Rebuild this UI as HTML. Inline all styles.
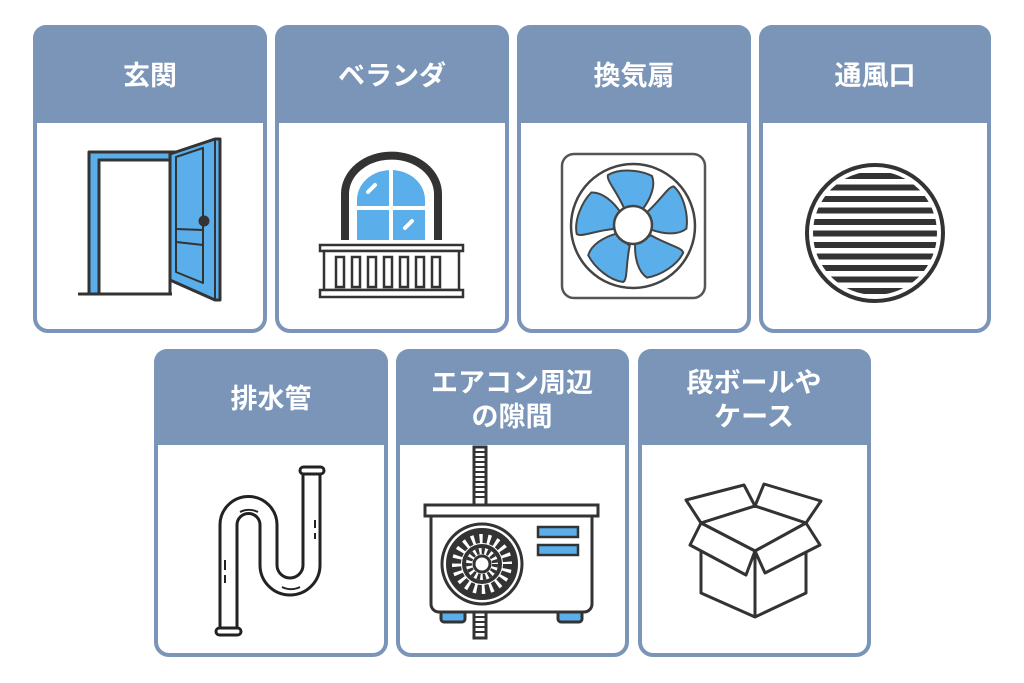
<!DOCTYPE html>
<html><head><meta charset="utf-8"><style>
html,body{margin:0;padding:0;background:#fff;width:1024px;height:683px;overflow:hidden}
svg{display:block}
text{font-family:"Liberation Sans","Noto Sans CJK JP",sans-serif;font-weight:bold;fill:#fff;font-size:27px;text-anchor:middle}
</style></head><body>
<svg width="1024" height="683" viewBox="0 0 1024 683">
<defs>
<clipPath id="vc"><circle cx="875" cy="233" r="62"/></clipPath>
</defs>
<g fill="#fff" stroke="#7a95b8" stroke-width="4">
<rect x="35" y="27" width="230" height="304" rx="13"/>
<rect x="277" y="27" width="230" height="304" rx="13"/>
<rect x="519" y="27" width="230" height="304" rx="13"/>
<rect x="761" y="27" width="228" height="304" rx="13"/>
<rect x="156" y="351" width="230" height="304" rx="13"/>
<rect x="398" y="351" width="229" height="304" rx="13"/>
<rect x="640" y="351" width="229" height="304" rx="13"/>
</g>
<g fill="#7a95b8">
<path d="M33 123V38a13 13 0 0 1 13-13h208a13 13 0 0 1 13 13v85z"/>
<path d="M275 123V38a13 13 0 0 1 13-13h208a13 13 0 0 1 13 13v85z"/>
<path d="M517 123V38a13 13 0 0 1 13-13h208a13 13 0 0 1 13 13v85z"/>
<path d="M759 123V38a13 13 0 0 1 13-13h206a13 13 0 0 1 13 13v85z"/>
<path d="M154 445V362a13 13 0 0 1 13-13h208a13 13 0 0 1 13 13v83z"/>
<path d="M396 445V362a13 13 0 0 1 13-13h207a13 13 0 0 1 13 13v83z"/>
<path d="M638 445V362a13 13 0 0 1 13-13h207a13 13 0 0 1 13 13v83z"/>
</g>
<text x="150" y="85">玄関</text>
<text x="392" y="85">ベランダ</text>
<text x="634" y="85">換気扇</text>
<text x="875" y="85">通風口</text>
<text x="271" y="408">排水管</text>
<text x="512" y="392">エアコン周辺</text>
<text x="512" y="426">の隙間</text>
<text x="754" y="392">段ボールや</text>
<text x="754" y="426">ケース</text>

<!-- door -->
<g stroke="#333" stroke-width="3" stroke-linejoin="round">
<line x1="78" y1="294" x2="172" y2="294"/>
<path d="M89 294V152h89v8h-79v134z" fill="#5aaeea"/>
<rect x="99" y="160" width="71" height="134" fill="#fff"/>
<path d="M170 154L215 139H220V300H215L170 280z" fill="#5aaeea"/>
<path d="M176 157L203 148V283L176 272z" fill="none" stroke-width="2"/>
<line x1="176" y1="229" x2="203" y2="230" stroke-width="2"/>
<line x1="176" y1="242" x2="203" y2="245" stroke-width="2"/>
<line x1="215" y1="139" x2="215" y2="300" stroke-width="2"/>
<circle cx="204" cy="221" r="4" fill="#333"/>
</g>

<!-- balcony -->
<path d="M345 240V194a46 38 0 0 1 93 0V240" fill="none" stroke="#333" stroke-width="8"/>
<path d="M357 240V200a34 30 0 0 1 68 0V240z" fill="#5aaeea"/>
<path d="M391 168V240M357 208H425" stroke="#fff" stroke-width="4"/>
<path d="M368 192l7-7M405 228l7-7" stroke="#fff" stroke-width="4" stroke-linecap="round"/>
<g fill="#fff" stroke="#333" stroke-width="2.5">
<rect x="320" y="245" width="143" height="6"/>
<rect x="324" y="251" width="135" height="39"/>
<rect x="320" y="290" width="143" height="7"/>
<rect x="336" y="257" width="8" height="30"/><rect x="352" y="257" width="8" height="30"/>
<rect x="368" y="257" width="8" height="30"/><rect x="384" y="257" width="8" height="30"/>
<rect x="400" y="257" width="8" height="30"/><rect x="416" y="257" width="8" height="30"/>
<rect x="432" y="257" width="8" height="30"/>
</g>

<!-- fan -->
<rect x="562" y="154" width="143" height="144" rx="12" fill="#fff" stroke="#555" stroke-width="2.5"/>
<circle cx="633" cy="226" r="62" fill="#fff" stroke="#444" stroke-width="2.5"/>
<g fill="#5aaeea" stroke="#444" stroke-width="2">
<g id="bl"><path d="M624 208C616 190 606 180 608 175C620 168 640 170 652 176C656 186 650 200 642 210z"/></g>
<use href="#bl" transform="rotate(72 633 226)"/>
<use href="#bl" transform="rotate(144 633 226)"/>
<use href="#bl" transform="rotate(216 633 226)"/>
<use href="#bl" transform="rotate(288 633 226)"/>
</g>
<circle cx="633" cy="225" r="19" fill="#fff" stroke="#444" stroke-width="2.5"/>

<!-- vent -->
<circle cx="875" cy="233" r="68" fill="#fff" stroke="#333" stroke-width="4"/>
<g clip-path="url(#vc)" stroke="#333" stroke-width="6">
<path d="M800 176H950M800 187.5H950M800 199H950M800 210.5H950M800 222H950M800 233.5H950M800 245H950M800 256.5H950M800 268H950M800 279.5H950M800 291H950"/>
</g>

<!-- pipe -->
<g fill="none" stroke="#222" stroke-width="3">
<path d="M303 474V565a13 13 0 0 1 -26 0V525a28.5 28.5 0 0 0 -57 0V629"/>
<path d="M320 474V565a30 30 0 0 1 -60 0V525a11.5 11.5 0 0 0 -23 0V629"/>
<rect x="300" y="467" width="24" height="7" rx="3.5" fill="#fff"/>
<rect x="216" y="628" width="25" height="7" rx="3.5" fill="#fff"/>
<path d="M315 520v8M315 533v6M225 560v10M225 575v8M240 512a20 20 0 0 1 18 0M282 587a20 20 0 0 0 18 0" stroke-width="2"/>
</g>

<!-- AC -->
<g stroke="#333" stroke-width="3">
<rect x="474" y="447" width="12" height="58" fill="#fff"/>
<rect x="474" y="612" width="12" height="26" fill="#fff"/>
</g>
<path d="M474 452h12M474 457h12M474 462h12M474 467h12M474 472h12M474 477h12M474 482h12M474 487h12M474 492h12M474 497h12M474 617h12M474 622h12M474 627h12M474 632h12" stroke="#333" stroke-width="2"/>
<g stroke="#333" stroke-width="3">
<rect x="441" y="611" width="24" height="11" rx="3" fill="#5aaeea"/>
<rect x="558" y="611" width="24" height="11" rx="3" fill="#5aaeea"/>
<path d="M431 516V604a8 8 0 0 0 8 8H584a8 8 0 0 0 8-8V516z" fill="#fff"/>
<rect x="425" y="505" width="173" height="11" fill="#fff"/>
<rect x="538" y="527" width="40" height="10" fill="#5aaeea" stroke-width="2.5"/>
<rect x="538" y="545" width="40" height="10" fill="#5aaeea" stroke-width="2.5"/>
<circle cx="482" cy="564" r="40" fill="#fff"/>
<circle cx="482" cy="564" r="33" fill="none" stroke-width="6"/>
</g>
<circle cx="482" cy="564" r="26" fill="none" stroke="#333" stroke-width="10" stroke-dasharray="5 3.2"/>
<circle cx="482" cy="564" r="18" fill="none" stroke="#333" stroke-width="4"/>
<circle cx="482" cy="564" r="13" fill="none" stroke="#333" stroke-width="6" stroke-dasharray="3 2.5"/>
<circle cx="482" cy="564" r="8" fill="#fff" stroke="#333" stroke-width="3"/>

<!-- box -->
<g fill="#fff" stroke="#333" stroke-width="3" stroke-linejoin="round">
<path d="M686 500L744 485L755 506L701 523z"/>
<path d="M764 484L821 501L806 523L755 506z"/>
<path d="M701 523L755 551L806 523L806 593L755 617L701 593z"/>
<path d="M755 506L701 523L755 551L806 523z"/>
<line x1="755" y1="551" x2="755" y2="617"/>
<path d="M701 523L690 545L746 575L755 551z"/>
<path d="M806 523L820 545L765 573L755 551z"/>
</g>
</svg>
</body></html>
